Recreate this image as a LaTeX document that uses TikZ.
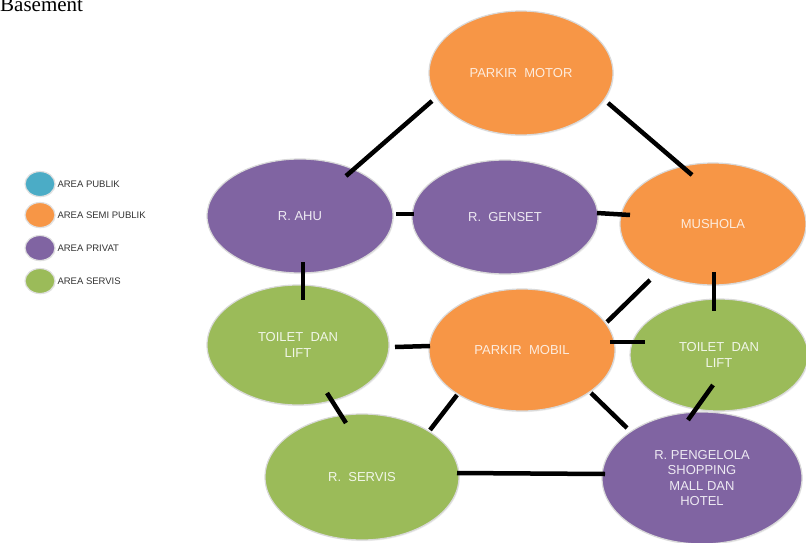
\documentclass[tikz,border=0pt]{standalone}
\usepackage{fontspec}
\setmainfont{Liberation Sans}
\newfontfamily\titlefont{Liberation Serif}
\usetikzlibrary{shapes.geometric,shadows}

\definecolor{cpub}{HTML}{4BACC6}
\definecolor{csemi}{HTML}{F79646}
\definecolor{cpriv}{HTML}{8064A2}
\definecolor{cserv}{HTML}{9BBB59}

\tikzset{
  room/.style={ellipse, draw=white!85!black, line width=1.2pt,
    drop shadow={opacity=0.12, shadow xshift=0.8pt, shadow yshift=-1.2pt},
    font=\fontsize{13}{15.5}\selectfont, align=center, inner sep=0pt},
  semi/.style={room, fill=csemi, text=white!82!csemi},
  priv/.style={room, fill=cpriv, text=white!86!cpriv},
  serv/.style={room, fill=cserv, text=white!86!cserv},
  link/.style={line width=4.5pt, black},
  key/.style={ellipse, draw=white!88!black, line width=1.2pt,
    drop shadow={opacity=0.15, shadow xshift=0.6pt, shadow yshift=-0.8pt},
    minimum width=30pt, minimum height=25pt, inner sep=0pt},
  keytext/.style={anchor=west, font=\fontsize{9.5}{11}\selectfont, text=black!80}
}

\begin{document}
\begin{tikzpicture}[x=1pt,y=-1pt]
\useasboundingbox (0,0) rectangle (806,543);

% heading, partly above the page edge
\node[anchor=base west, inner sep=0pt, font=\titlefont\fontsize{21}{21}\selectfont] (title) at (0,12) {Basement};

% legend
\node[key, fill=cpub]  (k1) at (40,184) {};
\node[key, fill=csemi] (k2) at (40,215) {};
\node[key, fill=cpriv] (k3) at (40,248) {};
\node[key, fill=cserv] (k4) at (40,281) {};
\node[keytext] (t1) at (54,184) {AREA PUBLIK};
\node[keytext] (t2) at (54,215) {AREA SEMI PUBLIK};
\node[keytext] (t3) at (54,248) {AREA PRIVAT};
\node[keytext] (t4) at (54,281) {AREA SERVIS};

% rooms
\node[semi, minimum width=184pt, minimum height=124pt] (motor) at (521,73) {PARKIR\ \ MOTOR};
\node[priv, minimum width=186pt, minimum height=114pt] (ahu) at (300,216) {R. AHU};
\node[priv, minimum width=186pt, minimum height=114pt] (genset) at (505,217) {R.\ \ GENSET};
\node[semi, minimum width=186pt, minimum height=122pt] (mushola) at (713,224) {MUSHOLA};
\node[serv, minimum width=182pt, minimum height=120pt] (toiletL) at (298,345) {TOILET\ \ DAN\\LIFT};
\node[semi, minimum width=186pt, minimum height=122pt] (mobil) at (522,350) {PARKIR\ \ MOBIL};
\node[serv, minimum width=178pt, minimum height=112pt] (toiletR) at (719,355) {TOILET\ \ DAN\\LIFT};
\node[serv, minimum width=194pt, minimum height=126pt] (servis) at (362,477) {R.\ \ SERVIS};
\node[priv, minimum width=200pt, minimum height=132pt] (pengelola) at (702,478) {R. PENGELOLA\\SHOPPING\\MALL DAN\\HOTEL};

% connections
\draw[link] ([shift={(-89,28)}]motor.center) -- ([shift={(46,-40)}]ahu.center);
\draw[link] ([shift={(87,30)}]motor.center) -- ([shift={(-21,-49)}]mushola.center);
\draw[link] ([shift={(96,-2)}]ahu.center) -- ([shift={(-91,-3)}]genset.center);
\draw[link] ([shift={(92,-4)}]genset.center) -- ([shift={(-83,-9)}]mushola.center);
\draw[link] ([shift={(3,46)}]ahu.center) -- ([shift={(5,-45)}]toiletL.center);
\draw[link] ([shift={(-63,56)}]mushola.center) -- ([shift={(85,-28)}]mobil.center);
\draw[link] ([shift={(1,48)}]mushola.center) -- ([shift={(-5,-44)}]toiletR.center);
\draw[link] ([shift={(97,2)}]toiletL.center) -- ([shift={(-92,-4)}]mobil.center);
\draw[link] ([shift={(88,-8)}]mobil.center) -- ([shift={(-74,-13)}]toiletR.center);
\draw[link] ([shift={(29,48)}]toiletL.center) -- ([shift={(-16,-54)}]servis.center);
\draw[link] ([shift={(-65,45)}]mobil.center) -- ([shift={(68,-47)}]servis.center);
\draw[link] ([shift={(69,43)}]mobil.center) -- ([shift={(-75,-50)}]pengelola.center);
\draw[link] ([shift={(-6,30)}]toiletR.center) -- ([shift={(-14,-58)}]pengelola.center);
\draw[link] ([shift={(95,-4)}]servis.center) -- ([shift={(-97,-4)}]pengelola.center);
\end{tikzpicture}
\end{document}
